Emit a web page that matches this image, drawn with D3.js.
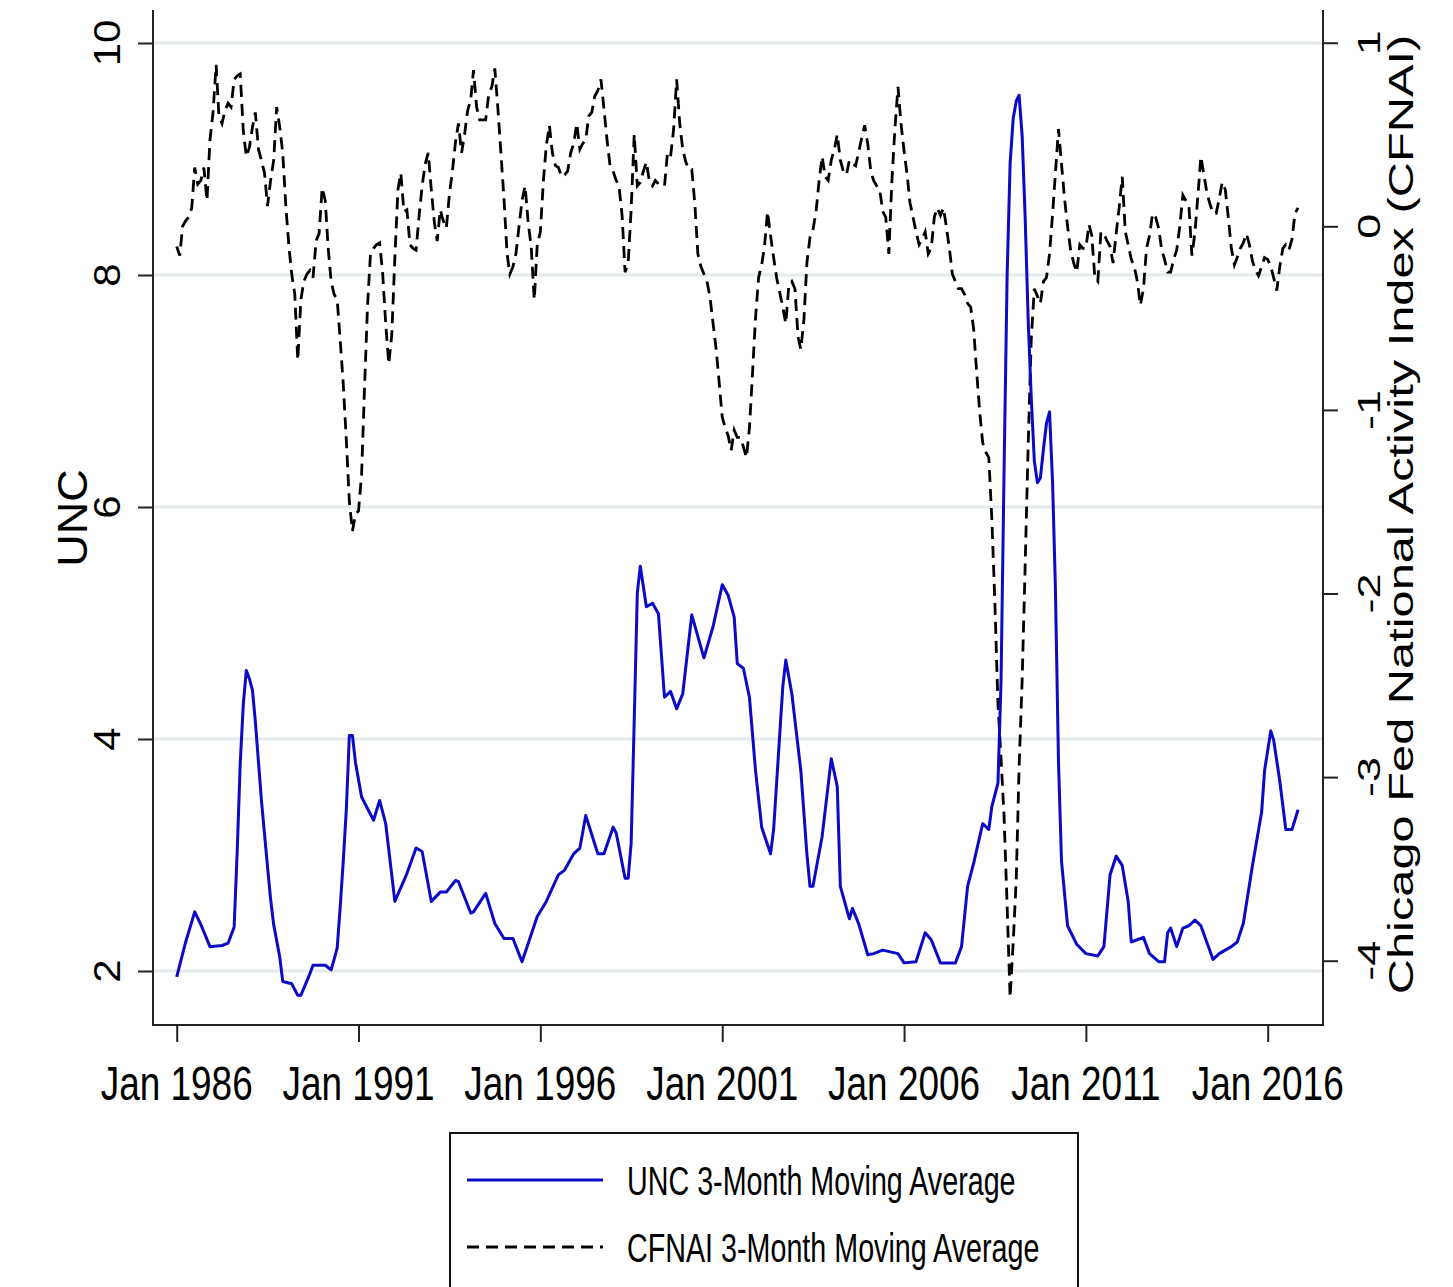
<!DOCTYPE html>
<html><head><meta charset="utf-8">
<script src="https://cdn.jsdelivr.net/npm/d3@7"></script>
<style>
body{margin:0;background:#fff}
svg{display:block}
text{font-family:"Liberation Sans",Arial,sans-serif;fill:#000}
</style>
</head><body>
<svg id="chart" width="1453" height="1287"></svg>
<script>
// ---------------- DATA ----------------
const uncMonths = ["1986-01","1986-04","1986-07","1986-09","1986-12","1987-04","1987-06","1987-08","1987-09","1987-10","1987-11","1987-12",
"1988-01","1988-02","1988-03","1988-05","1988-07","1988-08","1988-09","1988-11","1988-12","1989-03","1989-05","1989-06","1989-09","1989-10",
"1990-02","1990-04","1990-05","1990-06","1990-07","1990-08","1990-09","1990-10","1990-11","1990-12","1991-02","1991-06","1991-08","1991-10",
"1992-01","1992-05","1992-08","1992-10","1993-01","1993-04","1993-06","1993-09","1993-10","1994-02","1994-03","1994-07","1994-10",
"1995-01","1995-04","1995-07","1995-12","1996-03","1996-07","1996-09","1996-12","1997-02","1997-04","1997-08","1997-10",
"1998-01","1998-02","1998-05","1998-06","1998-07","1998-08","1998-09","1998-10","1998-12","1999-02","1999-04","1999-06","1999-08","1999-10","1999-12",
"2000-03","2000-07","2000-10","2001-01","2001-03","2001-05","2001-06","2001-08","2001-10","2001-12","2002-02","2002-05","2002-06","2002-09","2002-10","2002-12",
"2003-03","2003-05","2003-06","2003-07","2003-10","2004-01","2004-03","2004-04","2004-07","2004-08","2004-10","2005-01","2005-03","2005-06","2005-11",
"2006-01","2006-05","2006-08","2006-10","2007-01","2007-06","2007-08","2007-10","2007-12","2008-03","2008-05","2008-06","2008-08","2008-09","2008-10","2008-11","2008-12",
"2009-01","2009-02","2009-03","2009-04","2009-05","2009-06","2009-07","2009-08","2009-09","2009-10","2009-11","2009-12","2010-01","2010-02","2010-03","2010-04","2010-05","2010-07","2010-10",
"2011-01","2011-05","2011-07","2011-09","2011-11","2012-01","2012-03","2012-04","2012-08","2012-10","2013-01","2013-03","2013-04","2013-05","2013-07","2013-09","2013-11",
"2014-01","2014-03","2014-07","2014-09","2015-01","2015-03","2015-05","2015-08","2015-11","2015-12","2016-02","2016-03","2016-05","2016-07","2016-09","2016-11"];
const uncValues = [1.95,2.25,2.51,2.40,2.21,2.22,2.24,2.38,3.04,3.79,4.30,4.59,
4.52,4.42,4.15,3.47,2.90,2.62,2.40,2.12,1.91,1.89,1.79,1.79,1.98,2.05,
2.05,2.01,2.10,2.20,2.55,2.95,3.40,4.03,4.03,3.80,3.50,3.30,3.47,3.27,
2.60,2.84,3.06,3.03,2.60,2.68,2.68,2.78,2.77,2.50,2.51,2.67,2.41,
2.28,2.28,2.08,2.47,2.60,2.83,2.87,3.01,3.06,3.34,3.01,3.01,
3.24,3.19,2.80,2.80,3.10,4.16,5.26,5.49,5.14,5.17,5.08,4.36,4.41,4.26,4.39,
5.07,4.70,4.97,5.33,5.24,5.05,4.65,4.61,4.36,3.73,3.24,3.01,3.22,4.45,4.68,4.39,
3.73,3.01,2.73,2.73,3.16,3.83,3.59,2.73,2.45,2.54,2.41,2.14,2.15,2.18,2.15,
2.07,2.08,2.33,2.27,2.07,2.07,2.21,2.73,2.93,3.27,3.22,3.42,3.62,4.50,6.30,8.00,8.96,
9.35,9.50,9.55,9.20,8.50,7.60,6.95,6.40,6.21,6.25,6.50,6.72,6.82,6.20,5.30,3.80,2.95,2.39,2.23,
2.15,2.13,2.21,2.83,2.99,2.91,2.60,2.25,2.29,2.15,2.08,2.08,2.33,2.37,2.21,2.37,2.39,
2.44,2.39,2.10,2.15,2.21,2.25,2.41,2.91,3.37,3.73,4.07,3.99,3.64,3.22,3.22,3.39];

const cfnaiStart = "1986-01"; // one value per month from here
const cfnaiValues = [
-0.11,-0.16,0.00,0.03,0.05,0.10,0.32,0.23,0.25,0.32,
0.14,0.47,0.62,0.88,0.60,0.56,0.63,0.67,0.65,0.80,
0.82,0.83,0.52,0.38,0.43,0.54,0.62,0.42,0.36,0.29,
0.11,0.25,0.36,0.65,0.54,0.40,0.11,-0.11,-0.26,-0.37,
-0.73,-0.40,-0.30,-0.26,-0.24,-0.28,-0.08,-0.04,0.21,0.14,
-0.11,-0.30,-0.37,-0.40,-0.62,-0.86,-1.17,-1.50,-1.66,-1.57,
-1.55,-1.35,-0.90,-0.44,-0.15,-0.12,-0.10,-0.09,-0.26,-0.53,
-0.75,-0.59,-0.17,0.20,0.29,0.08,0.09,-0.10,-0.12,-0.13,
0.06,0.22,0.34,0.40,0.20,0.02,-0.08,0.09,0.03,-0.01,
0.17,0.30,0.46,0.56,0.40,0.50,0.63,0.69,0.85,0.65,
0.58,0.58,0.58,0.72,0.76,0.86,0.64,0.40,0.15,-0.15,
-0.26,-0.22,-0.15,0.00,0.14,0.22,0.02,-0.11,-0.40,-0.10,
-0.03,0.25,0.44,0.55,0.40,0.33,0.32,0.27,0.28,0.30,
0.40,0.45,0.56,0.42,0.45,0.47,0.60,0.62,0.71,0.74,
0.80,0.64,0.47,0.33,0.30,0.25,0.22,0.06,-0.25,-0.20,
0.09,0.50,0.22,0.24,0.30,0.35,0.24,0.22,0.25,0.23,
0.22,0.22,0.40,0.38,0.53,0.80,0.56,0.42,0.35,0.31,
0.31,0.12,-0.15,-0.22,-0.26,-0.30,-0.39,-0.53,-0.67,-0.85,
-1.04,-1.10,-1.14,-1.22,-1.11,-1.15,-1.15,-1.20,-1.26,-1.10,
-0.80,-0.50,-0.28,-0.21,-0.11,0.08,-0.05,-0.17,-0.28,-0.36,
-0.44,-0.53,-0.32,-0.30,-0.34,-0.60,-0.67,-0.51,-0.20,-0.06,
-0.02,0.08,0.25,0.38,0.27,0.25,0.36,0.42,0.50,0.36,
0.30,0.28,0.36,0.34,0.33,0.40,0.48,0.55,0.45,0.30,
0.25,0.22,0.20,0.08,0.05,-0.15,0.25,0.53,0.76,0.56,
0.41,0.28,0.13,0.05,-0.03,-0.10,-0.07,-0.03,-0.15,-0.12,
0.05,0.10,0.06,0.10,0.00,-0.12,-0.26,-0.30,-0.34,-0.34,
-0.37,-0.42,-0.44,-0.56,-0.80,-1.02,-1.18,-1.23,-1.26,-1.60,
-2.05,-2.60,-2.90,-3.21,-3.70,-4.20,-3.90,-3.55,-2.95,-2.47,
-1.85,-1.18,-0.62,-0.34,-0.38,-0.42,-0.30,-0.28,-0.15,0.07,
0.29,0.53,0.34,0.15,0.00,-0.13,-0.20,-0.25,-0.10,-0.12,
-0.12,0.01,-0.05,-0.28,-0.30,-0.03,-0.04,-0.08,-0.11,-0.20,
-0.04,0.10,0.27,-0.03,-0.10,-0.18,-0.22,-0.30,-0.43,-0.34,
-0.12,-0.05,0.07,0.05,-0.01,-0.13,-0.18,-0.25,-0.25,-0.18,
-0.13,0.00,0.17,0.14,0.11,-0.16,-0.03,0.18,0.38,0.28,
0.18,0.12,0.07,0.07,0.15,0.24,0.20,0.05,-0.12,-0.21,
-0.17,-0.12,-0.09,-0.04,-0.10,-0.19,-0.24,-0.27,-0.22,-0.17,
-0.18,-0.22,-0.28,-0.35,-0.22,-0.12,-0.10,-0.13,-0.07,0.07,
0.10];

const uncTicks = [2, 4, 6, 8, 10];
const cfnaiTicks = [-4, -3, -2, -1, 0, 1];
const xTickMonths = ["1986-01","1991-01","1996-01","2001-01","2006-01","2011-01","2016-01"];
const xTickLabels = ["Jan 1986","Jan 1991","Jan 1996","Jan 2001","Jan 2006","Jan 2011","Jan 2016"];
const leftTitle = "UNC";
const rightTitle = "Chicago Fed National Activity Index (CFNAI)";
const legendLabels = ["UNC 3-Month Moving Average","CFNAI 3-Month Moving Average"];

// ---------------- LAYOUT ----------------
const parse = d3.timeParse("%Y-%m");
const plot = {left:153, right:1323, top:10, bottom:1025};
const x = d3.scaleTime().domain([parse("1986-01"), parse("2016-01")]).range([176.7, 1267.7]);
const yL = d3.scaleLinear().domain([2, 10]).range([971, 43]);
const yR = d3.scaleLinear().domain([-4, 1]).range([960.7, 42.7]);

const unc = uncMonths.map((m, i) => ({date: parse(m), v: uncValues[i]}));
const cfnai = cfnaiValues.map((v, i) => ({date: d3.timeMonth.offset(parse(cfnaiStart), i), v}));

const svg = d3.select("#chart");
svg.append("rect").attr("width",1453).attr("height",1287).attr("fill","#fff");

// gridlines
svg.append("g").selectAll("line").data(uncTicks).join("line")
  .attr("x1", plot.left).attr("x2", plot.right)
  .attr("y1", d => yL(d)).attr("y2", d => yL(d))
  .attr("stroke", "#e4ebec").attr("stroke-width", 3);

// series
svg.append("path").datum(cfnai)
  .attr("fill","none").attr("stroke","#000").attr("stroke-width",2.8)
  .attr("stroke-dasharray","12,7")
  .attr("d", d3.line().x(d => x(d.date)).y(d => yR(d.v)));
svg.append("path").datum(unc)
  .attr("fill","none").attr("stroke","#0a0ac8").attr("stroke-width",3)
  .attr("stroke-linejoin","round")
  .attr("d", d3.line().x(d => x(d.date)).y(d => yL(d.v)));

// axes
const axisColor = "#222";
const gL = svg.append("g").attr("transform",`translate(${plot.left},0)`)
  .call(d3.axisLeft(yL).tickValues(uncTicks).tickSize(15).tickFormat(""));
const gR = svg.append("g").attr("transform",`translate(${plot.right},0)`)
  .call(d3.axisRight(yR).tickValues(cfnaiTicks).tickSize(15).tickFormat(""));
const gB = svg.append("g").attr("transform",`translate(0,${plot.bottom})`)
  .call(d3.axisBottom(x).tickValues(xTickMonths.map(parse)).tickSize(17).tickFormat(""));
[gL, gR, gB].forEach(g => {
  g.select(".domain").remove();
  g.selectAll(".tick line").attr("stroke", axisColor).attr("stroke-width", 2);
});
svg.append("line").attr("x1",plot.left).attr("x2",plot.left).attr("y1",plot.top).attr("y2",plot.bottom)
  .attr("stroke",axisColor).attr("stroke-width",2);
svg.append("line").attr("x1",plot.right).attr("x2",plot.right).attr("y1",plot.top).attr("y2",plot.bottom)
  .attr("stroke",axisColor).attr("stroke-width",2);
svg.append("line").attr("x1",plot.left-1).attr("x2",plot.right+1).attr("y1",plot.bottom).attr("y2",plot.bottom)
  .attr("stroke",axisColor).attr("stroke-width",2);

// tick labels
svg.append("g").selectAll("text").data(uncTicks).join("text")
  .attr("transform", d => `translate(120,${yL(d)}) scale(0.9,1) rotate(-90)`)
  .attr("text-anchor","middle").attr("font-size",42).text(d => d);
svg.append("g").selectAll("text").data(cfnaiTicks).join("text")
  .attr("transform", d => `translate(1380,${yR(d)}) scale(0.71,1) rotate(-90)`)
  .attr("text-anchor","middle").attr("font-size",45).text(d => d);
svg.append("g").selectAll("text").data(xTickMonths).join("text")
  .attr("transform", d => `translate(${x(parse(d))},1100) scale(0.754,1)`)
  .attr("text-anchor","middle").attr("font-size",49).text((d,i) => xTickLabels[i]);

// axis titles
svg.append("text").attr("transform","translate(87,518) scale(0.95,1) rotate(-90)")
  .attr("text-anchor","middle").attr("font-size",45).text(leftTitle);
svg.append("text").attr("transform","translate(1413,514.5) scale(0.71,1) rotate(-90)")
  .attr("text-anchor","middle").attr("font-size",48.8).text(rightTitle);

// legend
const lg = svg.append("g");
lg.append("rect").attr("x",450).attr("y",1133).attr("width",628).attr("height",200)
  .attr("fill","#fff").attr("stroke","#111").attr("stroke-width",2);
const legendStyles = [{stroke:"#0a0ac8", dash:null}, {stroke:"#000", dash:"12,7"}];
legendLabels.forEach((lab, i) => {
  const yy = 1180 + i*67;
  lg.append("line").attr("x1",467).attr("x2",603).attr("y1",yy).attr("y2",yy)
    .attr("stroke",legendStyles[i].stroke).attr("stroke-width",3)
    .attr("stroke-dasharray",legendStyles[i].dash);
  lg.append("text").attr("transform",`translate(627,${yy+15}) scale(0.70,1)`)
    .attr("font-size",41).text(lab);
});
</script>
</body></html>
